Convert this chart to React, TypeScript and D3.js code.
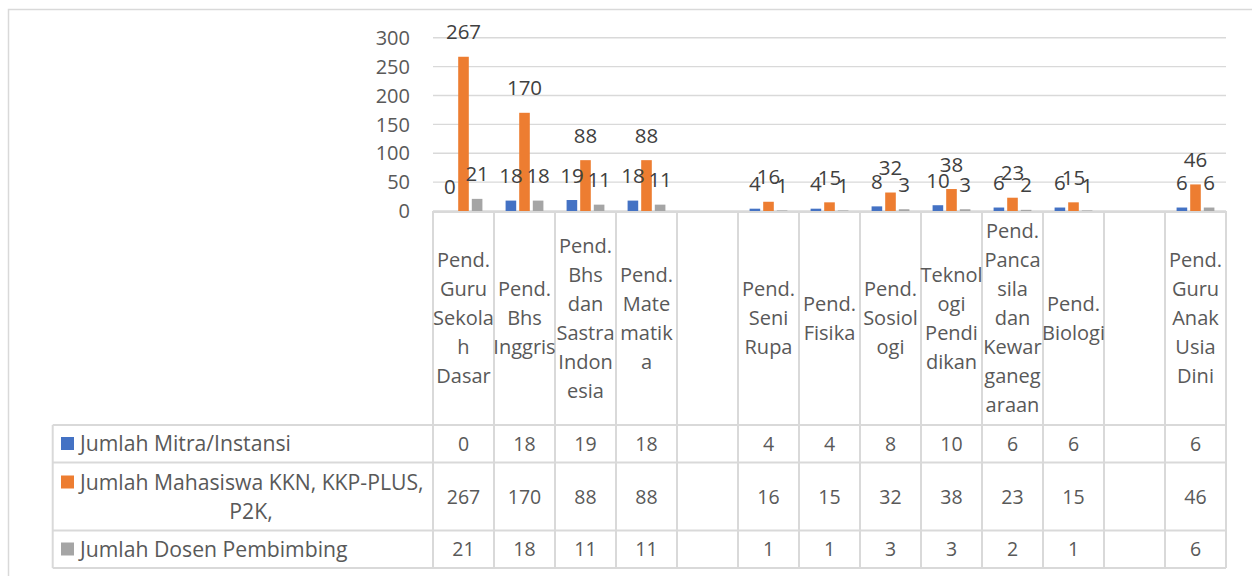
import React from "react";
import * as d3 from "d3";

const categoryLines: string[][] = [
  ["Pend.", "Guru", "Sekola", "h", "Dasar"],
  ["Pend.", "Bhs", "Inggris"],
  ["Pend.", "Bhs", "dan", "Sastra", "Indon", "esia"],
  ["Pend.", "Mate", "matik", "a"],
  [],
  ["Pend.", "Seni", "Rupa"],
  ["Pend.", "Fisika"],
  ["Pend.", "Sosiol", "ogi"],
  ["Teknol", "ogi", "Pendi", "dikan"],
  ["Pend.", "Panca", "sila", "dan", "Kewar", "ganeg", "araan"],
  ["Pend.", "Biologi"],
  [],
  ["Pend.", "Guru", "Anak", "Usia", "Dini"],
];

const mitra: (number | null)[] = [0, 18, 19, 18, null, 4, 4, 8, 10, 6, 6, null, 6];
const mahasiswa: (number | null)[] = [267, 170, 88, 88, null, 16, 15, 32, 38, 23, 15, null, 46];
const dosen: (number | null)[] = [21, 18, 11, 11, null, 1, 1, 3, 3, 2, 1, null, 6];

const seriesNames: string[][] = [
  ["Jumlah Mitra/Instansi"],
  ["Jumlah Mahasiswa KKN, KKP-PLUS,", "P2K,"],
  ["Jumlah Dosen Pembimbing"],
];
const seriesColors = ["#4472C4", "#ED7D31", "#A5A5A5"];
const yTicks = [0, 50, 100, 150, 200, 250, 300];

const W = 1252;
const H = 576;
const FONT = "'Open Sans', 'Noto Sans', sans-serif";

export default function App() {
  const series = [mitra, mahasiswa, dosen];
  const idx = categoryLines.map((_, i) => String(i));
  const x = d3.scaleBand<string>().domain(idx).range([433, 1226]).paddingInner(0).paddingOuter(0);
  const bw = x.bandwidth();
  const xs = d3
    .scaleBand<string>()
    .domain(["0", "1", "2"])
    .range([bw * 0.19, bw * 0.81])
    .paddingInner(0.22)
    .paddingOuter(0);
  const y = d3.scaleLinear().domain([0, 300]).range([211, 37.7]);

  const tableLeft = 52.7;
  const tableRight = 1226;
  const headerTop = 211;
  const rowLines = [425, 462.5, 530.5, 568];
  const rowCenters = [443.5, 496.5, 549];
  const headerCenter = (headerTop + rowLines[0]) / 2;
  const lineH = 29;
  const grid = "#D9D9D9";
  const textCol = "#595959";

  return (
    <svg
      width={W}
      height={H}
      style={{ position: "absolute", left: 0, top: 0, background: "#fff" }}
      fontFamily={FONT}
    >
      <rect x={8.5} y={9.5} width={1260} height={600} fill="#fff" stroke={grid} strokeWidth={1.5} />
      {/* gridlines */}
      {yTicks.map((t) => (
        <line key={"g" + t} x1={433} x2={1226} y1={y(t)} y2={y(t)} stroke={grid} strokeWidth={1.4} />
      ))}
      {/* y axis labels */}
      {yTicks.map((t) => (
        <text
          key={"yl" + t}
          x={410}
          y={y(t)}
          dy="0.36em"
          textAnchor="end"
          fontSize={20}
          fill={textCol}
        >
          {t}
        </text>
      ))}
      {/* bars */}
      {series.map((vals, s) =>
        vals.map((v, i) =>
          v == null ? null : (
            <rect
              key={`b${s}-${i}`}
              x={(x(String(i)) as number) + (xs(String(s)) as number)}
              y={y(v)}
              width={xs.bandwidth()}
              height={y(0) - y(v)}
              fill={seriesColors[s]}
            />
          )
        )
      )}
      {/* value labels */}
      {series.map((vals, s) =>
        vals.map((v, i) =>
          v == null ? null : (
            <text
              key={`vl${s}-${i}`}
              x={(x(String(i)) as number) + (xs(String(s)) as number) + xs.bandwidth() / 2}
              y={y(v) - 17.5}
              textAnchor="middle"
              fontSize={20.5}
              fill="#404040"
            >
              {v}
            </text>
          )
        )
      )}
      {/* table lines */}
      <line x1={433} x2={tableRight} y1={headerTop + 1} y2={headerTop + 1} stroke={grid} strokeWidth={2} />
      {rowLines.map((ry) => (
        <line key={"rl" + ry} x1={tableLeft} x2={tableRight} y1={ry} y2={ry} stroke={grid} strokeWidth={2} />
      ))}
      <line x1={tableLeft} x2={tableLeft} y1={rowLines[0]} y2={rowLines[3]} stroke={grid} strokeWidth={2} />
      {idx.concat(["end"]).map((k, i) => {
        const xx = k === "end" ? tableRight : (x(k) as number);
        return (
          <line key={"vl" + i} x1={xx} x2={xx} y1={headerTop} y2={rowLines[3]} stroke={grid} strokeWidth={2} />
        );
      })}
      {/* category labels */}
      {categoryLines.map((lines, i) => {
        const cx = (x(String(i)) as number) + bw / 2;
        const start = headerCenter - ((lines.length - 1) * lineH) / 2;
        return lines.map((ln, j) => (
          <text
            key={`cl${i}-${j}`}
            x={cx}
            y={start + j * lineH}
            dy="0.36em"
            textAnchor="middle"
            fontSize={20}
            fill={textCol}
          >
            {ln}
          </text>
        ));
      })}
      {/* legend rows */}
      {seriesNames.map((lines, s) => {
        const cy = rowCenters[s];
        const start = cy - ((lines.length - 1) * lineH) / 2;
        return (
          <g key={"lg" + s}>
            <rect x={61} y={start - 6.5} width={13} height={13} fill={seriesColors[s]} />
            {lines.map((ln, j) => (
              <text
                key={`lt${s}-${j}`}
                x={j === 0 ? 80 : 251}
                y={start + j * lineH}
                dy="0.36em"
                textAnchor={j === 0 ? "start" : "middle"}
                fontSize={21.2}
                fill={textCol}
              >
                {ln}
              </text>
            ))}
          </g>
        );
      })}
      {/* table values */}
      {series.map((vals, s) =>
        vals.map((v, i) =>
          v == null ? null : (
            <text
              key={`tv${s}-${i}`}
              x={(x(String(i)) as number) + bw / 2}
              y={rowCenters[s]}
              dy="0.36em"
              textAnchor="middle"
              fontSize={19.5}
              fill={textCol}
            >
              {v}
            </text>
          )
        )
      )}
    </svg>
  );
}
